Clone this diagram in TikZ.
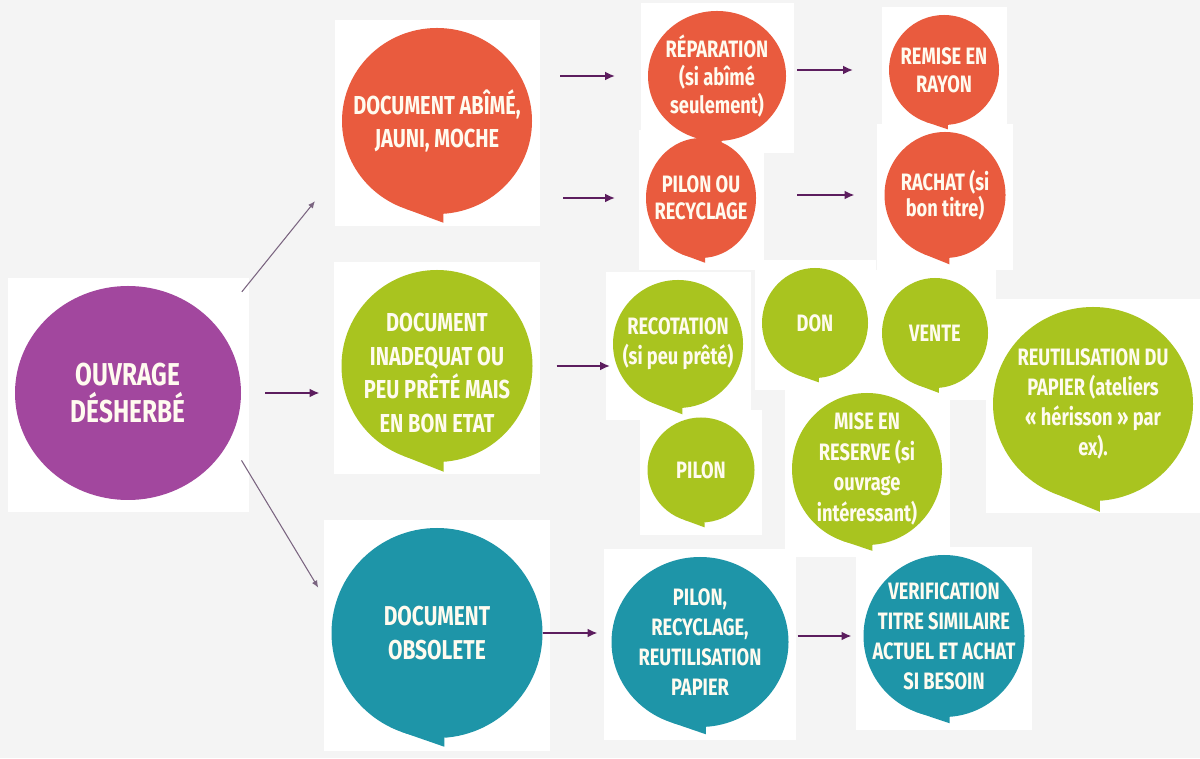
\documentclass[tikz,border=0pt]{standalone}
\usepackage{fontspec}
\usepackage{tikz}
\usetikzlibrary{shapes.geometric, arrows.meta, backgrounds, calc}
\newfontfamily\bubfont{Fira Sans}[FakeStretch=0.77]
\newcommand{\taille}[2]{\fontsize{#1}{#2}\selectfont}

\definecolor{mauve}{HTML}{A2479E}
\definecolor{corail}{HTML}{E95B3E}
\definecolor{anis}{HTML}{A9C41F}
\definecolor{canard}{HTML}{1E95A8}
\definecolor{creme}{HTML}{FFFBEF}
\definecolor{prune}{HTML}{5C1D5E}
\definecolor{trait}{HTML}{7A6480}
\definecolor{fond}{HTML}{F4F4F4}

\begin{document}
\begin{tikzpicture}[
		bulle/.style={ellipse, fill=#1, inner sep=0pt, outer sep=0pt},
		texte/.style={text=creme, align=center, font=\bubfont\bfseries\taille{13.5}{17}},
		grandtexte/.style={text=creme, align=center, font=\bubfont\bfseries\taille{14.8}{19}},
		suite/.style={-{Latex[length=2mm, width=1.8mm]}, line width=1.1pt, prune},
		lien/.style={-{Latex[length=1.4mm, width=1.2mm]}, line width=0.6pt, trait}
	]
		\useasboundingbox (0,0) rectangle (24,15.16);

		% colonne de gauche
		\node[bulle=mauve, minimum width=4.52cm, minimum height=4.28cm] (ouvrage) at (2.56,7.30) {};
		\node[texte, font=\bubfont\bfseries\taille{18}{21}] (t-ouvrage) at (ouvrage) {OUVRAGE\\DÉSHERBÉ};

		\node[bulle=corail, minimum width=3.80cm, minimum height=3.72cm] (abime) at (8.74,12.74) {};
		\node[grandtexte] (t-abime) at (abime) {DOCUMENT ABÎMÉ,\\JAUNI, MOCHE};
		\node[bulle=anis, minimum width=3.82cm, minimum height=3.84cm] (inadequat) at (8.74,7.84) {};
		\node[grandtexte] (t-inadequat) at ([yshift=-4pt]inadequat) {DOCUMENT\\INADEQUAT OU\\PEU PRÊTÉ MAIS\\EN BON ETAT};
		\node[bulle=canard, minimum width=4.22cm, minimum height=4.20cm] (obsolete) at (8.74,2.50) {};
		\node[texte, font=\bubfont\bfseries\taille{15.5}{19}] (t-obsolete) at (obsolete) {DOCUMENT\\OBSOLETE};

		% branche rouge
		\node[bulle=corail, minimum width=2.76cm, minimum height=2.60cm] (reparation) at (14.34,13.64) {};
		\node[texte, font=\bubfont\bfseries\taille{13.5}{16}] (t-reparation) at (reparation) {RÉPARATION\\(si abîmé\\seulement)};
		\node[bulle=corail, minimum width=2.20cm, minimum height=2.20cm] (remise) at (18.88,13.76) {};
		\node[texte, font=\bubfont\bfseries\taille{13.5}{16}] (t-remise) at (remise) {REMISE EN\\RAYON};
		\node[bulle=corail, minimum width=2.20cm, minimum height=2.40cm] (pilonrec) at (14.02,11.20) {};
		\node[texte, font=\bubfont\bfseries\taille{13.5}{15.5}] (t-pilonrec) at (pilonrec) {PILON OU\\RECYCLAGE};
		\node[bulle=corail, minimum width=2.42cm, minimum height=2.52cm] (rachat) at (18.90,11.26) {};
		\node[texte, font=\bubfont\bfseries\taille{13.5}{14.5}] (t-rachat) at (rachat) {RACHAT (si\\bon titre)};

		% branche verte
		\node[bulle=anis, minimum width=2.60cm, minimum height=2.56cm] (recotation) at (13.56,8.28) {};
		\node[texte] (t-recotation) at (recotation) {RECOTATION\\(si peu prêté)};
		\node[bulle=anis, minimum width=2.12cm, minimum height=2.20cm] (don) at (16.30,8.70) {};
		\node[texte] (t-don) at (don) {DON};
		\node[bulle=anis, minimum width=2.12cm, minimum height=2.20cm] (vente) at (18.70,8.50) {};
		\node[texte] (t-vente) at (vente) {VENTE};
		\node[bulle=anis, minimum width=2.14cm, minimum height=2.10cm] (pilonv) at (14.02,5.76) {};
		\node[texte] (t-pilonv) at (pilonv) {PILON};
		\node[bulle=anis, minimum width=3.00cm, minimum height=3.04cm] (reserve) at (17.34,5.78) {};
		\node[texte, font=\bubfont\bfseries\taille{13.5}{17.5}] (t-reserve) at (reserve) {MISE EN\\RESERVE (si\\ouvrage\\intéressant)};
		\node[bulle=anis, minimum width=4.00cm, minimum height=3.88cm] (papier) at (21.86,7.08) {};
		\node[texte] (t-papier) at (papier) {REUTILISATION DU\\PAPIER (ateliers\\« hérisson » par\\ex).};

		% branche bleue
		\node[bulle=canard, minimum width=3.54cm, minimum height=3.40cm] (pilonb) at (14.00,2.32) {};
		\node[texte] (t-pilonb) at (pilonb) {PILON,\\RECYCLAGE,\\REUTILISATION\\PAPIER};
		\node[bulle=canard, minimum width=3.22cm, minimum height=3.24cm] (verif) at (18.88,2.44) {};
		\node[texte] (t-verif) at (verif) {VERIFICATION\\TITRE SIMILAIRE\\ACTUEL ET ACHAT\\SI BESOIN};

		% pointes des bulles
		\foreach \bul/\coul/\drop in {abime/corail/0.18cm, inadequat/anis/0.2cm, obsolete/canard/0.18cm,
				reparation/corail/0.12cm, remise/corail/0.09cm, pilonrec/corail/0.1cm, rachat/corail/0.13cm,
				recotation/anis/0.13cm, don/anis/0.09cm, vente/anis/0.1cm, pilonv/anis/0.1cm,
				reserve/anis/0.12cm, papier/anis/0.22cm, pilonb/canard/0.15cm, verif/canard/0.13cm}
			\fill[\coul] (\bul.-110) -- ([yshift=-\drop]\bul.-86) -- (\bul.-86) -- cycle;

		% fleches
		\draw[lien, shorten <=0.85cm, shorten >=1.11cm] (ouvrage.38) -- (abime.-157);
		\draw[suite, shorten <=0.48cm, shorten >=0.44cm] (ouvrage.east) -- (ouvrage.east -| inadequat.west);
		\draw[lien, shorten <=0.47cm, shorten >=0.59cm] (ouvrage.-25) -- (obsolete.169);

		\draw[suite, shorten <=0.56cm, shorten >=0.66cm] (abime.east |- reparation.west) -- (reparation.west);
		\draw[suite, shorten <=0.62cm, shorten >=0.62cm] (abime.east |- pilonrec.west) -- (pilonrec.west);
		\draw[suite, shorten <=0.22cm, shorten >=0.72cm] (reparation.east |- remise.west) -- (remise.west);
		\draw[suite, shorten <=0.82cm, shorten >=0.60cm] (pilonrec.east |- rachat.west) -- (rachat.west);
		\draw[suite, shorten <=0.48cm, shorten >=0.06cm] (inadequat.east) -- (inadequat.east -| recotation.west);
		\draw[suite, shorten >=0.28cm] (obsolete.east) -- (obsolete.east -| pilonb.west);
		\draw[suite, shorten <=0.18cm, shorten >=0.24cm] (pilonb.east |- verif.west) -- (verif.west);

		% fond gris et cadres blancs
		\begin{scope}[on background layer]
			\fill[fond] (0,0) rectangle (24,15.16);
			\foreach \bul in {ouvrage, abime, inadequat, obsolete, reparation, remise, pilonrec, rachat,
					recotation, don, vente, pilonv, reserve, papier, pilonb, verif}
				\fill[white] ($(\bul.west |- \bul.south)+(-0.15,-0.25)$) rectangle ($(\bul.east |- \bul.north)+(0.15,0.15)$);
		\end{scope}
	\end{tikzpicture}
\end{document}
